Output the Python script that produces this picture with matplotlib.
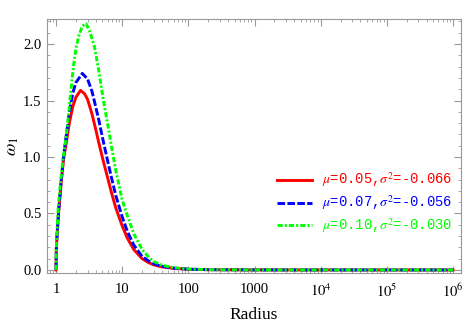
import numpy as np
import matplotlib
matplotlib.use("Agg")
import matplotlib.pyplot as plt
from matplotlib.ticker import FixedLocator, FixedFormatter, NullFormatter

plt.rcParams['mathtext.fontset'] = 'stix'
plt.rcParams['font.family'] = ['Liberation Serif', 'DejaVu Serif']

# valores (radio, omega_1)
radio_rojo = [1.0, 1.01, 1.035, 1.1, 1.2, 1.3, 1.45, 1.6, 1.8, 2.0, 2.35, 2.7, 3.0,
              3.5, 4.0, 4.5, 5.0, 6.0, 7.0, 8.0, 10, 12, 15, 20, 25, 30, 40, 60,
              100, 200, 1000, 1e4, 1e6]
omega_rojo = [0.0, 0.18, 0.30, 0.53, 0.78, 0.98, 1.15, 1.31, 1.45, 1.53, 1.59, 1.56, 1.51,
              1.38, 1.24, 1.11, 1.00, 0.82, 0.67, 0.55, 0.39, 0.28, 0.18, 0.10, 0.065, 0.045,
              0.027, 0.014, 0.006, 0.002, 0.0003, 0.0, 0.0]

radio_azul = [1.0, 1.01, 1.035, 1.1, 1.2, 1.3, 1.45, 1.6, 1.8, 2.0, 2.5, 3.0, 3.5,
              4.0, 4.5, 5.0, 6.0, 7.0, 8.0, 10, 12, 15, 20, 25, 30, 40, 60,
              100, 200, 1000, 1e4, 1e6]
omega_azul = [0.0, 0.18, 0.30, 0.54, 0.80, 1.01, 1.22, 1.41, 1.57, 1.66, 1.74, 1.69, 1.58,
              1.44, 1.31, 1.18, 0.97, 0.80, 0.66, 0.47, 0.34, 0.22, 0.12, 0.08, 0.055,
              0.032, 0.016, 0.007, 0.0025, 0.0003, 0.0, 0.0]

radio_verde = [1.0, 1.01, 1.035, 1.08, 1.15, 1.22, 1.3, 1.4, 1.52, 1.67, 1.85, 2.0, 2.2,
               2.5, 2.85, 3.2, 3.8, 4.5, 5.2, 6.0, 7.0, 8.0, 10, 12, 15, 20, 25, 30,
               40, 60, 100, 200, 1000, 1e4, 1e6]
omega_verde = [0.0, 0.20, 0.33, 0.56, 0.73, 0.88, 1.02, 1.15, 1.33, 1.58, 1.82, 1.96, 2.07,
               2.16, 2.18, 2.12, 1.98, 1.74, 1.50, 1.30, 1.07, 0.88, 0.62, 0.48, 0.32,
               0.18, 0.115, 0.075, 0.042, 0.02, 0.008, 0.003, 0.0004, 0.0, 0.0]

etiquetas = [r"$\mu$=0.05,$\sigma^2$=-0.066",
             r"$\mu$=0.07,$\sigma^2$=-0.056",
             r"$\mu$=0.10,$\sigma^2$=-0.030"]

ticks_x = [1, 10, 100, 1000, 1e4, 1e5, 1e6]
etiq_x = ["1", "10", "100", "1000", r"$10^4$", r"$10^5$", r"$10^6$"]
ticks_y = [0.0, 0.5, 1.0, 1.5, 2.0]

fig = plt.figure(figsize=(4.63, 3.23), dpi=100)
ax = fig.add_axes([47/463, 50/323, 414/463, 254/323])

ax.plot(radio_rojo, omega_rojo, color='#ff0000', lw=2.1, label=etiquetas[0])
ax.plot(radio_azul, omega_azul, color='#0000ff', lw=2.1, dashes=[2.6, 0.8], label=etiquetas[1])
ax.plot(radio_verde, omega_verde, color='#00ff00', lw=2.1, dashes=[1.8, 0.7, 0.7, 0.7],
        label=etiquetas[2])

ax.set_xscale('log')
ax.set_xlim(10**(-9/66), 10**(6 + 8/66))
ax.set_ylim(-0.027, 2.222)

ax.xaxis.set_major_locator(FixedLocator(ticks_x))
ax.xaxis.set_major_formatter(FixedFormatter(etiq_x))
menores = [m * 10**d for d in range(-1, 7) for m in range(2, 10)]
ax.xaxis.set_minor_locator(FixedLocator(menores))
ax.xaxis.set_minor_formatter(NullFormatter())
ax.yaxis.set_major_locator(FixedLocator(ticks_y))
ax.yaxis.set_major_formatter(FixedFormatter(["0.0", "0.5", "1.0", "1.5", "2.0"]))
ax.yaxis.set_minor_locator(FixedLocator(np.arange(0.0, 2.25, 0.1)))

gris = '#999999'
for s in ax.spines.values():
    s.set_color(gris)
    s.set_linewidth(0.8)
ax.tick_params(which='both', direction='in', top=True, right=True, color=gris,
               labelsize=10.5, labelcolor='black')
ax.tick_params(axis='x', pad=7)
ax.tick_params(axis='y', pad=4)
ax.tick_params(which='major', length=5, width=0.8)
ax.tick_params(which='minor', length=2.5, width=0.6)

ax.set_xlabel("Radius", fontsize=12.5)
ax.set_ylabel(r"$\omega_1$", fontsize=13)
ax.xaxis.set_label_coords(0.5, -0.135)
ax.yaxis.set_label_coords(-0.062, 0.5)

leg = ax.legend(loc='upper left', bbox_to_anchor=(0.543, 0.425), frameon=False,
                prop={'family': 'Liberation Mono', 'size': 10},
                handlelength=2.5, handletextpad=0.75, labelspacing=0.3,
                borderaxespad=0.0)
for txt, col in zip(leg.get_texts(), ['#ff0000', '#0000ff', '#00ff00']):
    txt.set_color(col)

fig.savefig("out.png", dpi=100)
